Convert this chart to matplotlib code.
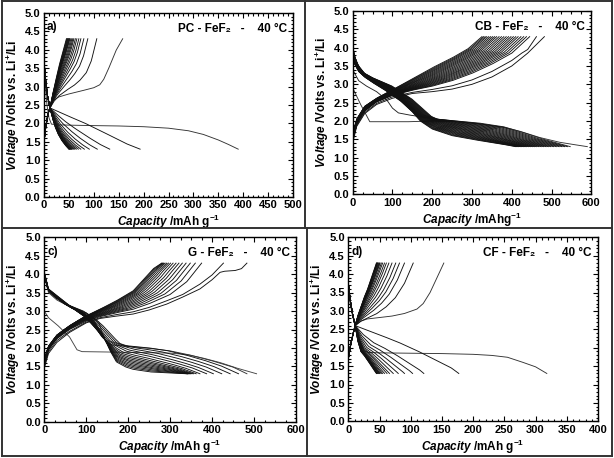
import numpy as np
import matplotlib
matplotlib.use("Agg")
import matplotlib.pyplot as plt
from matplotlib.lines import Line2D
from matplotlib.ticker import MultipleLocator, AutoMinorLocator

plt.rcParams['font.family'] = ['Liberation Sans', 'DejaVu Sans']
plt.rcParams['font.weight'] = 'bold'
plt.rcParams['axes.labelweight'] = 'bold'
plt.rcParams['mathtext.fontset'] = 'custom'
plt.rcParams['mathtext.rm'] = 'Liberation Sans:bold'
plt.rcParams['mathtext.bf'] = 'Liberation Sans:bold'
plt.rcParams['mathtext.it'] = 'Liberation Sans:italic:bold'
plt.rcParams['mathtext.default'] = 'bf'

# ---------------- Panel a: PC - FeF2 ----------------
A_D1_CAP = [0, 3, 6, 10, 15, 30, 60, 100, 150, 200, 250, 290, 320, 350, 370, 390]
A_D1_V = [3.45, 2.95, 2.5, 2.15, 1.98, 1.96, 1.95, 1.94, 1.93, 1.91, 1.87, 1.80, 1.70, 1.55, 1.43, 1.30]
A_DIS_HEAD_CAP = [0, 3, 7, 12]
A_DIS_HEAD_V = [3.7, 3.2, 2.75, 2.42]
A_DIS_EARLY_CAP = [12, 45, 80, 112, 140, 165, 193]
A_DIS_EARLY_V = [2.42, 2.22, 2.02, 1.81, 1.62, 1.45, 1.30]
A_DIS_LATE_CAP = [12, 17, 22, 28, 35, 42, 50]
A_DIS_LATE_V = [2.42, 2.15, 1.92, 1.72, 1.55, 1.42, 1.30]
A_DIS_END = [193, 132, 107, 91, 81, 74, 69, 65, 62, 60, 58, 56, 55, 54, 53, 52, 51, 50.5, 50]
A_CHG_HEAD_CAP = [0, 3, 6, 9, 12]
A_CHG_HEAD_V = [1.5, 1.85, 2.1, 2.3, 2.42]
A_C1_CAP = [12, 15, 20, 30, 50, 80, 100, 112, 120, 130, 145, 158]
A_C1_V = [2.42, 2.55, 2.64, 2.72, 2.8, 2.9, 2.97, 3.05, 3.2, 3.5, 3.99, 4.3]
A_CHG_EARLY_CAP = [12, 20, 30, 45, 60, 72, 85, 95, 106]
A_CHG_EARLY_V = [2.42, 2.6, 2.75, 2.9, 3.03, 3.17, 3.38, 3.7, 4.3]
A_CHG_LATE_CAP = [12, 16, 20, 25, 30, 35, 40, 45]
A_CHG_LATE_V = [2.42, 2.7, 2.95, 3.25, 3.55, 3.8, 4.05, 4.3]
A_CHG_END = [106, 88, 80, 74, 70, 66, 63, 60, 58, 56, 54, 52, 51, 50, 49, 48, 47, 46, 45]

# ---------------- Panel b: CB - FeF2 ----------------
B_D1_CAP = [0, 20, 43, 80, 140, 200, 260, 320, 380, 420, 470, 520, 560, 590]
B_D1_V = [2.9, 2.45, 1.98, 1.98, 1.98, 2.0, 1.98, 1.92, 1.83, 1.72, 1.55, 1.42, 1.35, 1.30]
B_D2_CAP = [0, 15, 35, 60, 86, 100, 115, 144, 181, 210, 260, 320, 380, 430, 480, 520, 547]
B_D2_V = [3.4, 3.1, 2.95, 2.8, 2.57, 2.35, 2.22, 2.16, 2.1, 2.05, 2.0, 1.94, 1.84, 1.68, 1.5, 1.38, 1.3]
B_DIS_EARLY_CAP = [0, 5, 15, 30, 50, 100, 150, 200, 215, 260, 320, 380, 420, 470, 510, 545]
B_DIS_EARLY_V = [4.05, 3.75, 3.5, 3.3, 3.18, 2.95, 2.6, 2.12, 2.05, 2.0, 1.93, 1.83, 1.7, 1.52, 1.4, 1.3]
B_DIS_LATE_CAP = [0, 5, 15, 30, 50, 80, 120, 150, 170, 200, 250, 300, 350, 380, 410]
B_DIS_LATE_V = [3.8, 3.55, 3.35, 3.2, 3.05, 2.85, 2.55, 2.25, 2.0, 1.78, 1.6, 1.5, 1.41, 1.36, 1.3]
B_DIS_END = [540, 533, 526, 519, 512, 505, 498, 492, 486, 480, 474, 468, 462, 457, 452,
             447, 442, 437, 433, 429, 425, 421, 417, 413, 410]
B_C1_CAP = [0, 10, 30, 60, 100, 150, 200, 250, 300, 350, 400, 440, 482]
B_C1_V = [1.4, 1.85, 2.2, 2.45, 2.62, 2.75, 2.8, 2.87, 3.0, 3.2, 3.5, 3.85, 4.3]
B_C2_CAP = [0, 10, 30, 60, 100, 150, 200, 250, 300, 350, 400, 425, 440, 462]
B_C2_V = [1.45, 1.88, 2.23, 2.48, 2.66, 2.78, 2.86, 2.96, 3.12, 3.35, 3.65, 3.85, 3.95, 4.3]
B_CHG_EARLY_CAP = [0, 10, 30, 60, 100, 150, 200, 250, 300, 350, 400, 445]
B_CHG_EARLY_V = [1.5, 1.92, 2.27, 2.52, 2.7, 2.84, 2.95, 3.1, 3.3, 3.55, 3.85, 4.3]
B_CHG_LATE_CAP = [0, 10, 30, 60, 100, 150, 200, 250, 290, 325]
B_CHG_LATE_V = [1.65, 2.05, 2.4, 2.62, 2.85, 3.15, 3.45, 3.72, 3.97, 4.3]
B_CHG_END = [445, 437, 430, 423, 416, 410, 404, 398, 392, 386, 380, 374, 368, 362, 357,
             352, 347, 342, 337, 333, 329, 325]

# ---------------- Panel c: G - FeF2 ----------------
C_D1_CAP = [0, 10, 33, 60, 78, 90, 150, 200, 250, 300, 340, 380, 420, 460, 506]
C_D1_V = [3.0, 2.82, 2.6, 2.3, 1.95, 1.9, 1.89, 1.88, 1.87, 1.86, 1.82, 1.72, 1.6, 1.45, 1.3]
C_D2_CAP = [0, 10, 30, 60, 100, 130, 138, 147, 162, 180, 200, 250, 300, 350, 400, 450, 483]
C_D2_V = [3.95, 3.5, 3.3, 3.12, 2.95, 2.7, 2.4, 2.16, 2.08, 2.06, 2.04, 1.99, 1.92, 1.8, 1.65, 1.48, 1.3]
C_DIS_EARLY_CAP = [0, 10, 30, 60, 93, 120, 140, 160, 180, 196, 250, 292, 340, 380, 420, 463]
C_DIS_EARLY_V = [4.0, 3.55, 3.35, 3.15, 3.0, 2.8, 2.6, 2.35, 2.12, 2.06, 2.0, 1.93, 1.8, 1.67, 1.52, 1.3]
C_DIS_LATE_CAP = [0, 10, 30, 60, 93, 120, 140, 157, 172, 195, 212, 252, 300, 340]
C_DIS_LATE_V = [4.05, 3.6, 3.42, 3.15, 2.95, 2.7, 2.35, 1.92, 1.62, 1.48, 1.42, 1.35, 1.32, 1.3]
C_DIS_END = [463, 443, 423, 403, 387, 371, 362, 356, 352, 349, 347, 345, 343, 342, 341, 340]
C_C1_CAP = [0, 10, 30, 60, 100, 133, 170, 212, 250, 292, 330, 371, 400, 419, 430, 455, 470, 483]
C_C1_V = [1.45, 1.85, 2.15, 2.42, 2.68, 2.8, 2.86, 2.92, 3.03, 3.19, 3.38, 3.6, 3.85, 4.05, 4.08, 4.1, 4.15, 4.3]
C_C2_CAP = [0, 10, 30, 60, 100, 133, 170, 212, 250, 292, 330, 371, 400, 427]
C_C2_V = [1.5, 1.9, 2.2, 2.45, 2.7, 2.82, 2.9, 2.98, 3.1, 3.28, 3.45, 3.73, 3.98, 4.3]
C_CHG_EARLY_CAP = [0, 10, 30, 60, 100, 133, 170, 212, 250, 300, 340, 375]
C_CHG_EARLY_V = [1.55, 1.95, 2.25, 2.5, 2.73, 2.85, 2.95, 3.05, 3.2, 3.45, 3.8, 4.3]
C_CHG_LATE_CAP = [0, 10, 30, 60, 93, 133, 172, 212, 236, 260, 280]
C_CHG_LATE_V = [1.7, 2.05, 2.35, 2.6, 2.83, 3.05, 3.28, 3.55, 3.85, 4.15, 4.3]
C_CHG_END = [375, 360, 348, 338, 329, 321, 314, 307, 301, 296, 292, 288, 285, 283, 281, 280]

# ---------------- Panel d: CF - FeF2 ----------------
D_D1_CAP = [0, 3, 7, 11, 18, 25, 32, 50, 100, 150, 200, 230, 255, 280, 300, 318]
D_D1_V = [3.7, 3.2, 2.85, 2.6, 2.2, 1.92, 1.87, 1.86, 1.85, 1.84, 1.82, 1.79, 1.74, 1.6, 1.48, 1.30]
D_DIS_HEAD_CAP = [0, 3, 7, 11]
D_DIS_HEAD_V = [3.75, 3.3, 2.9, 2.6]
D_DIS_EARLY_CAP = [11, 50, 80, 110, 130, 150, 165, 177]
D_DIS_EARLY_V = [2.6, 2.35, 2.15, 1.92, 1.75, 1.58, 1.45, 1.30]
D_DIS_LATE_CAP = [11, 15, 20, 25, 30, 35, 40, 45]
D_DIS_LATE_V = [2.6, 2.2, 1.9, 1.8, 1.68, 1.55, 1.42, 1.30]
D_DIS_END = [177, 121, 103, 90, 80, 72, 66, 62, 58, 55, 53, 51, 50, 49, 48, 47, 46, 45.5, 45]
D_CHG_HEAD_CAP = [0, 4, 8, 11]
D_CHG_HEAD_V = [1.7, 2.1, 2.4, 2.6]
D_C1_CAP = [11, 20, 30, 50, 70, 90, 110, 120, 131, 142, 153]
D_C1_V = [2.6, 2.72, 2.78, 2.82, 2.86, 2.93, 3.05, 3.2, 3.5, 3.9, 4.3]
D_CHG_EARLY_CAP = [11, 20, 30, 45, 60, 75, 90, 104]
D_CHG_EARLY_V = [2.6, 2.72, 2.8, 2.92, 3.1, 3.35, 3.75, 4.3]
D_CHG_LATE_CAP = [11, 15, 20, 25, 30, 35, 40, 45]
D_CHG_LATE_V = [2.6, 2.85, 3.1, 3.35, 3.55, 3.8, 4.05, 4.3]
D_CHG_END = [104, 90, 82, 76, 70, 65, 61, 58, 55, 53, 51, 50, 49, 48, 47, 46.5, 46, 45.5, 45]

LABELS = ["a)", "", "c)", "d)"]
TITLES = ["PC - FeF\u2082   -    40 \u00b0C", "CB - FeF\u2082   -    40 \u00b0C",
          "G - FeF\u2082   -    40 \u00b0C", "CF - FeF\u2082   -    40 \u00b0C"]
XMAX = [500, 600, 600, 400]
XSTEP = [50, 100, 100, 50]
XLABELS = [r"$\it{Capacity}$ /mAh g$^{-1}$", r"$\it{Capacity}$ /mAhg$^{-1}$",
           r"$\it{Capacity}$ /mAh g$^{-1}$", r"$\it{Capacity}$ /mAh g$^{-1}$"]
YLABEL = r"$\it{Voltage}$ /Volts vs. Li$^{+}$/Li"

LW = 0.65
COL = '#111111'


def family(ax, e_cap, e_v, l_cap, l_v, ends, head_cap=None, head_v=None, by_index=False):
    e_cap = np.asarray(e_cap, float); l_cap = np.asarray(l_cap, float)
    pivot = e_cap[0]
    t = np.linspace(0, 1, 160)
    ve = np.interp(pivot + t * (e_cap[-1] - pivot), e_cap, e_v)
    vl = np.interp(pivot + t * (l_cap[-1] - pivot), l_cap, l_v)
    ends = np.asarray(ends, float)
    n = len(ends)
    for i, C in enumerate(ends):
        if by_index:
            w = 1 - i / (n - 1)
        else:
            w = (C - ends.min()) / (ends.max() - ends.min())
        v = w * ve + (1 - w) * vl
        x = pivot + t * (C - pivot)
        if head_cap is not None:
            x = np.concatenate([head_cap[:-1], x])
            v = np.concatenate([head_v[:-1], v])
        ax.plot(x, v, color=COL, lw=LW)


fig = plt.figure(figsize=(6.14, 4.58), dpi=100)
W, H = 614.0, 458.0
boxes = [(44, 293, 13, 197), (352.7, 591.3, 11, 194.3), (44.3, 296, 237.3, 421.7), (348.3, 598, 237.3, 421.3)]
axes = []
for (l, r, t, b) in boxes:
    axes.append(fig.add_axes([l / W, 1 - b / H, (r - l) / W, (b - t) / H]))

# panel a
ax = axes[0]
ax.plot(A_D1_CAP, A_D1_V, color='#333333', lw=LW)
family(ax, A_DIS_EARLY_CAP, A_DIS_EARLY_V, A_DIS_LATE_CAP, A_DIS_LATE_V, A_DIS_END,
       A_DIS_HEAD_CAP, A_DIS_HEAD_V)
ax.plot(A_CHG_HEAD_CAP[:-1] + A_C1_CAP, A_CHG_HEAD_V[:-1] + A_C1_V, color='#333333', lw=LW)
family(ax, A_CHG_EARLY_CAP, A_CHG_EARLY_V, A_CHG_LATE_CAP, A_CHG_LATE_V, A_CHG_END,
       A_CHG_HEAD_CAP, A_CHG_HEAD_V)

# panel b
ax = axes[1]
ax.plot(B_D1_CAP, B_D1_V, color='#333333', lw=LW)
ax.plot(B_D2_CAP, B_D2_V, color='#222222', lw=LW)
family(ax, B_DIS_EARLY_CAP, B_DIS_EARLY_V, B_DIS_LATE_CAP, B_DIS_LATE_V, B_DIS_END, by_index=True)
ax.plot(B_C1_CAP, B_C1_V, color=COL, lw=LW)
ax.plot(B_C2_CAP, B_C2_V, color=COL, lw=LW)
family(ax, B_CHG_EARLY_CAP, B_CHG_EARLY_V, B_CHG_LATE_CAP, B_CHG_LATE_V, B_CHG_END, by_index=True)

# panel c
ax = axes[2]
ax.plot(C_D1_CAP, C_D1_V, color='#444444', lw=LW)
ax.plot(C_D2_CAP, C_D2_V, color='#333333', lw=LW)
family(ax, C_DIS_EARLY_CAP, C_DIS_EARLY_V, C_DIS_LATE_CAP, C_DIS_LATE_V, C_DIS_END, by_index=True)
ax.plot(C_C1_CAP, C_C1_V, color=COL, lw=LW)
ax.plot(C_C2_CAP, C_C2_V, color=COL, lw=LW)
family(ax, C_CHG_EARLY_CAP, C_CHG_EARLY_V, C_CHG_LATE_CAP, C_CHG_LATE_V, C_CHG_END, by_index=True)

# panel d
ax = axes[3]
ax.plot(D_D1_CAP, D_D1_V, color='#333333', lw=LW)
family(ax, D_DIS_EARLY_CAP, D_DIS_EARLY_V, D_DIS_LATE_CAP, D_DIS_LATE_V, D_DIS_END,
       D_DIS_HEAD_CAP, D_DIS_HEAD_V)
ax.plot(D_CHG_HEAD_CAP[:-1] + D_C1_CAP, D_CHG_HEAD_V[:-1] + D_C1_V, color='#333333', lw=LW)
family(ax, D_CHG_EARLY_CAP, D_CHG_EARLY_V, D_CHG_LATE_CAP, D_CHG_LATE_V, D_CHG_END,
       D_CHG_HEAD_CAP, D_CHG_HEAD_V)

for i, ax in enumerate(axes):
    ax.set_xlim(0, XMAX[i])
    ax.set_ylim(0, 5.0)
    ax.xaxis.set_major_locator(MultipleLocator(XSTEP[i]))
    ax.xaxis.set_minor_locator(AutoMinorLocator(4 if XSTEP[i] == 100 else 5))
    ax.yaxis.set_major_locator(MultipleLocator(0.5))
    ax.yaxis.set_minor_locator(AutoMinorLocator(5))
    ax.yaxis.set_major_formatter(matplotlib.ticker.FormatStrFormatter('%.1f'))
    ax.tick_params(which='both', direction='in', top=True, right=True, labelsize=8, width=0.8, pad=2.5)
    ax.tick_params(which='major', length=3.5)
    ax.tick_params(which='minor', length=1.8)
    for s in ax.spines.values():
        s.set_linewidth(1.0)
    ax.set_xlabel(XLABELS[i], fontsize=8.5, labelpad=2)
    ax.set_ylabel(YLABEL, fontsize=8.5, labelpad=2)
    if LABELS[i]:
        ax.text(0.012, 0.955, LABELS[i], transform=ax.transAxes, fontsize=8.5, ha='left', va='top')
    ax.text(0.975, 0.945, TITLES[i], transform=ax.transAxes, fontsize=8.5, ha='right', va='top')

# panel frames
def fline(x0, y0, x1, y1):
    fig.add_artist(Line2D([x0 / W, x1 / W], [1 - y0 / H, 1 - y1 / H], color='#333333', lw=1.4))

fline(2, 1, 612, 1)
fline(2, 456, 612, 456)
fline(2, 1, 2, 456)
fline(612, 1, 612, 456)
fline(2, 228.3, 612, 228.3)
fline(305.3, 1, 305.3, 228.3)
fline(307.3, 228.3, 307.3, 456)

fig.savefig("out.png", dpi=100)
